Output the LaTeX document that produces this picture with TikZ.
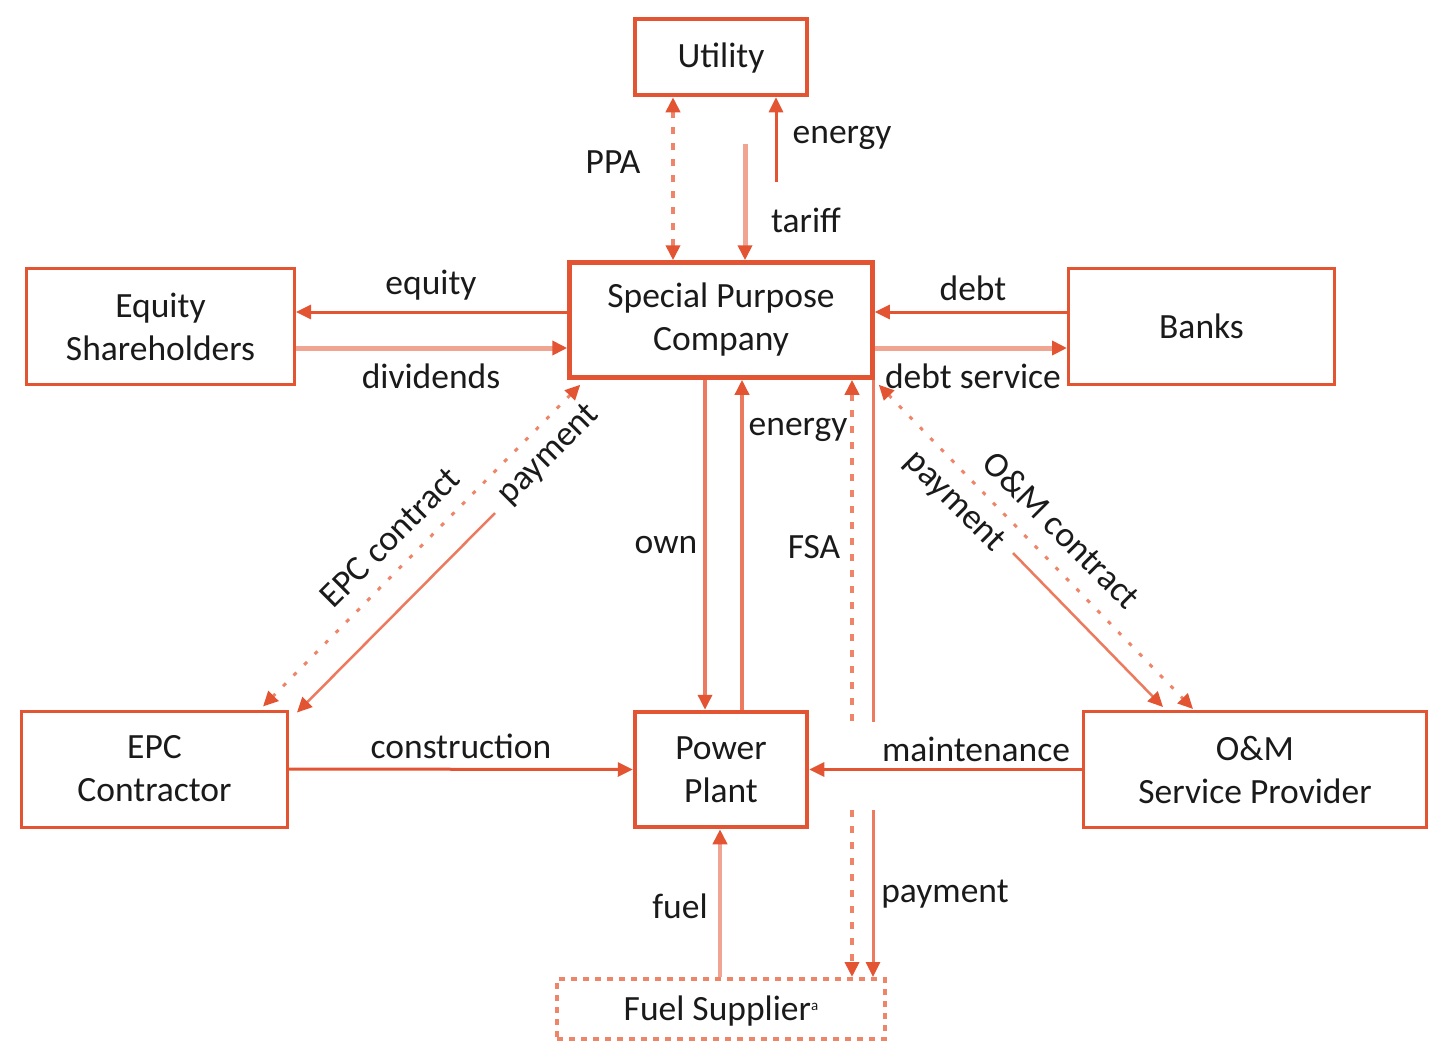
\documentclass[tikz,border=0pt]{standalone}
\usepackage{fontspec}
\setmainfont{Carlito}
\usetikzlibrary{arrows.meta,calc}
\definecolor{oc}{HTML}{E35432}
\definecolor{ocmid}{HTML}{EC7A5E}
\definecolor{oclight}{HTML}{F0A592}
\definecolor{ocdot}{HTML}{EE8468}
\definecolor{ink}{HTML}{1A1A1A}
\begin{document}
\begin{tikzpicture}[x=1pt,y=-1pt,
  font=\fontsize{35.5}{43}\selectfont, text=ink,
  box/.style={draw=oc, line width=3pt, align=center, inner sep=0pt,
    minimum width=#1},
  heavybox/.style={box=#1, line width=4.5pt},
  lbl/.style={inner sep=0pt, anchor=center},
  tipend/.style={-{Triangle[length=15pt,width=14pt,color=oc]}},
  tipboth/.style={{Triangle[length=15pt,width=14pt,color=oc]}-{Triangle[length=15pt,width=14pt,color=oc]}},
  darkflow/.style={draw=oc, line width=3pt},
  midflow/.style={draw=ocmid, line width=3.5pt},
  lightflow/.style={draw=oclight, line width=5pt},
  dotflow/.style={draw=ocdot, line width=4pt, dash pattern=on 7pt off 9pt},
  diagdot/.style={draw=ocdot, line width=3pt, dash pattern=on 4pt off 11pt},
]
\useasboundingbox (0,0) rectangle (1434,1045);

% parties
\node[heavybox=172pt, minimum height=76pt, text depth=4pt] (util) at (721,57) {Utility};
\node[heavybox=303pt, minimum height=115pt] (spc) at (721,320) {Special Purpose\\Company};
\node[box=268pt, minimum height=116pt] (eq) at (160.5,326.5) {Equity\\Shareholders};
\node[box=266pt, minimum height=116pt] (bank) at (1201.5,326.5) {Banks};
\node[box=266pt, minimum height=116pt] (epc) at (154.5,769) {EPC\\Contractor};
\node[heavybox=172pt, minimum height=115pt] (pp) at (721,769.5) {Power\\Plant};
\node[box=343pt, minimum height=116pt] (om) at (1255,769.5) {O\&M\\Service Provider};
\node[draw=ocdot, line width=4pt, dash pattern=on 6pt off 6pt, inner sep=0pt,
  minimum width=328pt, minimum height=60pt, text depth=2pt] (fuel) at (721,1009)
  {Fuel Supplier\raisebox{10pt}{\fontsize{15}{15}\selectfont a}};

% loose ends of connectors
\coordinate (tarA) at (745,144);
\coordinate (enA) at (776,182);
\coordinate (epcpayA) at (495,513);
\coordinate (ompayA) at (1013,553);
\coordinate (fsaA) at (852,722);
\coordinate (fsaB) at (852,810);
\coordinate (paybA) at (873,722);
\coordinate (paybB) at (873,810);

% utility <-> SPC
\draw[dotflow, tipboth] (util.south -| 673,0) -- (spc.north -| 673,0);
\draw[lightflow, tipend] (tarA) -- (spc.north -| tarA);
\draw[darkflow, tipend] (enA) -- (util.south -| enA);

% shareholders and banks
\draw[darkflow, tipend] (spc.west |- 0,312) -- (eq.east |- 0,312);
\draw[lightflow, tipend] (eq.east |- 0,348) -- (spc.west |- 0,348);
\draw[darkflow, tipend] (bank.west |- 0,312) -- (spc.east |- 0,312);
\draw[lightflow, tipend] (spc.east |- 0,348) -- (bank.west |- 0,348);

% EPC contractor
\draw[diagdot, tipboth] ($(spc.south west)+(13,5)$) -- ($(epc.north east)+(-26,-3)$);
\draw[darkflow, line width=2.5pt, draw=ocmid, tipend] (epcpayA) -- ($(epc.north east)+(8,3)$);
\draw[darkflow, tipend] (epc.east) -- (pp.west);

% SPC <-> power plant
\draw[midflow, tipend] (spc.south -| 705,0) -- (pp.north -| 705,0);
\draw[midflow, tipend] (pp.north -| 742,0) -- (spc.south -| 742,0);

% O&M provider
\draw[diagdot, tipboth] ($(spc.south east)+(4,5)$) -- ($(om.north west)+(111,-1)$);
\draw[darkflow, line width=2.5pt, draw=ocmid, tipend] (ompayA) -- ($(om.north west)+(81,-3)$);
\draw[darkflow, tipend] (om.west) -- (pp.east);

% fuel supply
\draw[lightflow, line width=4.5pt, tipend] (fuel.north -| 720,0) -- (pp.south -| 720,0);
\draw[dotflow, {Triangle[length=15pt,width=14pt,color=oc]}-] (spc.south -| fsaA) -- (fsaA);
\draw[dotflow, tipend] (fsaB) -- (fuel.north -| fsaB);
\draw[darkflow, draw=ocmid] (spc.south -| paybA) -- (paybA);
\draw[darkflow, draw=ocmid, tipend] (paybB) -- (fuel.north -| paybB);

% flow labels
\node[lbl] (lppa) at (613,162) {PPA};
\node[lbl] (lentop) at (842,138) {energy};
\node[lbl] (ltar) at (806,220) {tariff};
\node[lbl] (lequ) at (431,285) {equity};
\node[lbl] (ldiv) at (431,376) {dividends};
\node[lbl] (ldebt) at (973,288) {debt};
\node[lbl] (ldebts) at (973,376) {debt service};
\node[lbl] (lenmid) at (798,430) {energy};
\node[lbl] (lown) at (666,545) {own};
\node[lbl] (lfsa) at (814,547) {FSA};
\node[lbl, rotate=45] (lepcc) at (390,537) {EPC contract};
\node[lbl, rotate=45] (lepcp) at (549,455) {payment};
\node[lbl, rotate=-45] (lomc) at (1062,530) {O\&M contract};
\node[lbl, rotate=-45] (lomp) at (954,502) {payment};
\node[lbl] (lcon) at (461,746) {construction};
\node[lbl] (lmain) at (976,749) {maintenance};
\node[lbl] (lfuel) at (680,906) {fuel};
\node[lbl] (lpay) at (945,894) {payment};
\end{tikzpicture}
\end{document}
